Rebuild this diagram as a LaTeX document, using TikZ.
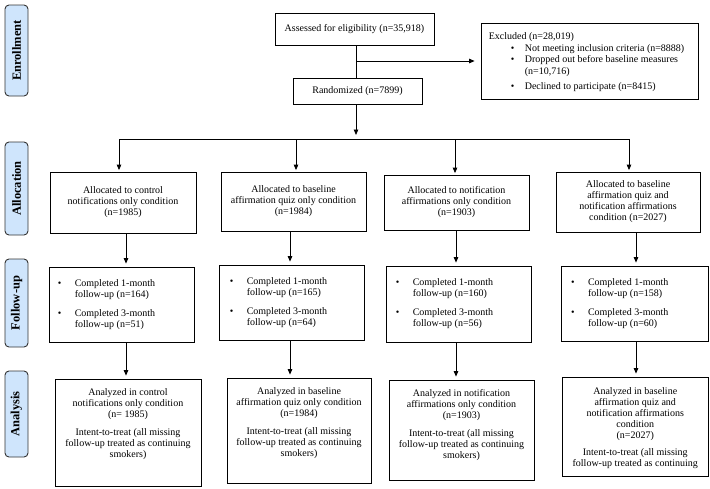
\documentclass[tikz,border=0pt]{standalone}
\usepackage{fontspec}
\setmainfont{Liberation Serif}
\usetikzlibrary{arrows.meta}
\definecolor{sidefill}{RGB}{207,229,252}
\newcommand\fuitems[2]{\makebox[17pt][l]{\textbullet}Completed 1-month\\\hspace*{17pt}follow-up (n=#1)\\[8pt]\makebox[17pt][l]{\textbullet}Completed 3-month\\\hspace*{17pt}follow-up (n=#2)}
\newcommand\itttext{Intent-to-treat (all missing\\follow-up treated as continuing}
\begin{document}
\begin{tikzpicture}[x=1pt,y=-1pt,
  box/.style={draw=black, line width=0.8pt, inner sep=0pt},
  txt/.style={font=\fontsize{10}{11}\selectfont, align=center, inner sep=0pt},
  side/.style={draw=black!80, line width=0.9pt, rounded corners=4pt, fill=sidefill, minimum width=23pt, inner sep=0pt},
  sidetxt/.style={font=\fontsize{12.5}{12.5}\selectfont\bfseries, rotate=90, inner sep=0pt},
  arr/.style={-{Triangle[length=5.5pt,width=4.5pt]}, line width=0.8pt},
  ln/.style={line width=0.8pt}]
\useasboundingbox (0,0) rectangle (710,488);

% side labels
\node[side, minimum height=91pt] (sEn) at (16.5,50.5) {};
\node[sidetxt] (sEnT) at (sEn.center) {Enrollment};
\node[side, minimum height=93pt] (sAl) at (16.5,188.5) {};
\node[sidetxt] (sAlT) at (sAl.center) {Allocation};
\node[side, minimum height=88pt] (sFu) at (16.5,303) {};
\node[sidetxt] (sFuT) at (sFu.center) {Follow-up};
\node[side, minimum height=86pt] (sAn) at (16.5,414) {};
\node[sidetxt] (sAnT) at (sAn.center) {Analysis};

% enrollment
\node[box, txt, minimum width=159pt, minimum height=32pt] (assess) at (354.5,29) {Assessed for eligibility (n=35,918)};
\node[box, txt, minimum width=129pt, minimum height=26pt] (rand) at (357.5,91) {Randomized (n=7899)};
\node[box, minimum width=217pt, minimum height=76pt] (excl) at (589.5,61) {};
\node[txt, align=left, anchor=west, font=\fontsize{10}{11.8}\selectfont] (exclT) at ([xshift=8pt,yshift=-1pt]excl.west)
 {Excluded (n=28,019)\\
  \hspace*{22pt}\makebox[14pt][l]{\textbullet}Not meeting inclusion criteria (n=8888)\\
  \hspace*{22pt}\makebox[14pt][l]{\textbullet}Dropped out before baseline measures\\
  \hspace*{36pt}(n=10,716)\\[3pt]
  \hspace*{22pt}\makebox[14pt][l]{\textbullet}Declined to participate (n=8415)};

% allocation
\node[box, txt, minimum width=146pt, minimum height=61pt] (al1) at (123,202.5) {Allocated to control\\notifications only condition\\(n=1985)};
\node[box, txt, minimum width=145pt, minimum height=59pt] (al2) at (293.5,201.5) {Allocated to baseline\\affirmation quiz only condition\\(n=1984)};
\node[box, txt, minimum width=145pt, minimum height=55pt] (al3) at (456.5,202.5) {Allocated to notification\\affirmations only condition\\(n=1903)};
\node[box, txt, minimum width=144pt, minimum height=60pt] (al4) at (628,202) {Allocated to baseline\\affirmation quiz and\\notification affirmations\\condition (n=2027)};

% follow-up
\node[box, minimum width=145pt, minimum height=75pt] (fu1) at (121.5,304.5) {};
\node[box, minimum width=145pt, minimum height=75pt] (fu2) at (291.5,302.5) {};
\node[box, minimum width=145pt, minimum height=76pt] (fu3) at (458.5,304) {};
\node[box, minimum width=147pt, minimum height=75pt] (fu4) at (634.75,303.5) {};
\node[txt, align=left, anchor=west] (fu1T) at ([xshift=9pt]fu1.west) {\fuitems{164}{51}};
\node[txt, align=left, anchor=west] (fu2T) at ([xshift=11pt]fu2.west) {\fuitems{165}{64}};
\node[txt, align=left, anchor=west] (fu3T) at ([xshift=10pt]fu3.west) {\fuitems{160}{56}};
\node[txt, align=left, anchor=west] (fu4T) at ([xshift=10pt]fu4.west) {\fuitems{158}{60}};

% analysis
\node[box, minimum width=146pt, minimum height=107pt] (an1) at (128,432.5) {};
\node[box, minimum width=144pt, minimum height=105pt] (an2) at (299,430.5) {};
\node[box, minimum width=145pt, minimum height=100pt] (an3) at (461.5,430) {};
\node[box, minimum width=146.5pt, minimum height=99pt] (an4) at (635.25,426.5) {};
\node[txt, anchor=north] (an1T) at ([yshift=-10pt]an1.north) {Analyzed in control\\notifications only condition\\(n= 1985)\\[7pt]\itttext\\smokers)};
\node[txt, anchor=north] (an2T) at ([yshift=-10pt]an2.north) {Analyzed in baseline\\affirmation quiz only condition\\(n=1984)\\[7pt]\itttext\\smokers)};
\node[txt, anchor=north] (an3T) at ([yshift=-10pt]an3.north) {Analyzed in notification\\affirmations only condition\\(n=1903)\\[7pt]\itttext\\smokers)};
\node[txt, anchor=north] (an4T) at ([yshift=-11pt]an4.north) {Analyzed in baseline\\affirmation quiz and\\notification affirmations\\condition\\(n=2027)\\[6pt]\itttext};

% coordinates for connector columns
\coordinate (colA) at (356,0);
\coordinate (bar) at (0,139);
\coordinate (t1) at (119,0);
\coordinate (t2) at (296,0);
\coordinate (t3) at (455,0);
\coordinate (t4) at (629,0);
\coordinate (c1) at (126,0);
\coordinate (c2) at (290,0);
\coordinate (c3) at (456,0);
\coordinate (c4) at (636,0);

% connectors
\draw[ln] (assess.south -| colA) -- (rand.north -| colA);
\draw[arr, shorten >=6pt] (excl.west -| colA) -- (excl.west);
\draw[arr, shorten >=4pt] (rand.south -| colA) -- (colA |- bar);
\draw[ln] (t1 |- bar) -- (t4 |- bar);
\foreach \i in {1,2,3,4}{
  \draw[arr, shorten >=1.5pt] (t\i |- bar) -- (al\i.north -| t\i);
  \draw[arr, shorten >=3pt] (al\i.south -| c\i) -- (fu\i.north -| c\i);
  \draw[arr, shorten >=3pt] (fu\i.south -| c\i) -- (an\i.north -| c\i);
}
\end{tikzpicture}
\end{document}
